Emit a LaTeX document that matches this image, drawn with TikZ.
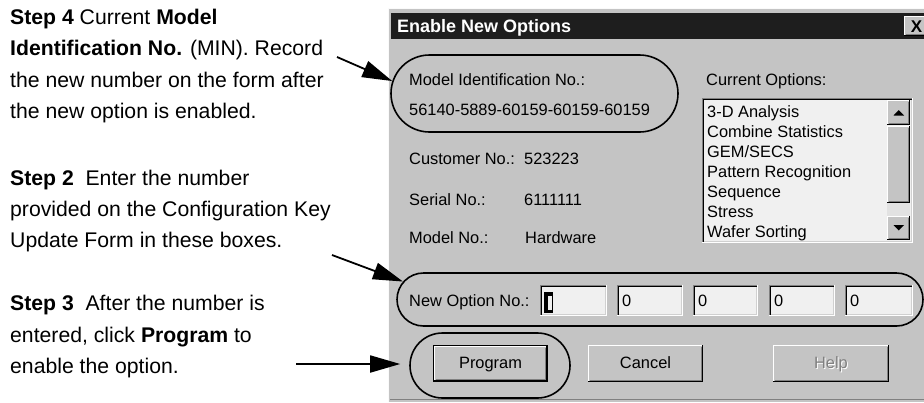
\documentclass[tikz,border=0pt]{standalone}
\usepackage{fontspec}
\setmainfont{Liberation Sans}
\usetikzlibrary{arrows.meta,shapes.misc}
\definecolor{dlg}{HTML}{C4C4C4}
\definecolor{ttl}{HTML}{1E1E1E}
\definecolor{fld}{HTML}{F0F0F0}
\definecolor{shd}{HTML}{808080}
\definecolor{hil}{HTML}{FAFAFA}
\definecolor{trk}{HTML}{E2E2E2}
\newcommand{\rbtn}[4]{%
  \fill[dlg] (#1,#2) rectangle (#3,#4);
  \draw[white, line width=1pt] (#1+0.5,#4-1) -- (#1+0.5,#2+0.5) -- (#3-1,#2+0.5);
  \draw[black, line width=1pt] (#1,#4-0.5) -- (#3-0.5,#4-0.5) -- (#3-0.5,#2);
  \draw[shd, line width=1pt] (#1+1.5,#4-1.5) -- (#3-1.5,#4-1.5) -- (#3-1.5,#2+1.5);
}
\newcommand{\snkbox}[4]{%
  \fill[fld] (#1,#2) rectangle (#3,#4);
  \draw[shd, line width=1pt] (#1+0.5,#4) -- (#1+0.5,#2+0.5) -- (#3,#2+0.5);
  \draw[black, line width=1.2pt] (#1+1.6,#4-1) -- (#1+1.6,#2+1.6) -- (#3-1,#2+1.6);
  \draw[white, line width=1pt] (#1,#4-0.5) -- (#3-0.5,#4-0.5) -- (#3-0.5,#2);
  \draw[dlg!80!white, line width=1pt] (#1+1.5,#4-1.5) -- (#3-1.5,#4-1.5) -- (#3-1.5,#2+1.5);
}
\begin{document}
\begin{tikzpicture}[x=1pt,y=-1pt,
  steptxt/.style={anchor=base west, inner sep=0pt, font=\fontsize{21.2}{24}\selectfont},
  dtxt/.style={anchor=base west, inner sep=0pt, font=\fontsize{16.4}{19}\selectfont},
  ctxt/.style={anchor=base, inner sep=0pt, font=\fontsize{16.4}{19}\selectfont},
  ring/.style={rounded rectangle, draw=black, line width=1.6pt, inner sep=0pt},
  callout/.style={draw=black, line width=1.8pt, -{Triangle[length=30pt,width=17pt]}},
]
\useasboundingbox (0,0) rectangle (924,402);
\fill[white] (0,0) rectangle (924,402);

% ---- dialog window ----
\fill[dlg] (388,8) rectangle (924,402);
\draw[hil, line width=1pt] (388.5,402) -- (388.5,8.5) -- (924,8.5);
\draw[shd, line width=1pt] (390,399.5) -- (924,399.5);
\fill[ttl] (391,13) rectangle (924,39);
\node[anchor=base west, inner sep=0pt, text=white, font=\bfseries\fontsize{18}{20}\selectfont] (title) at (397,32.5) {Enable New Options};
\rbtn{904}{16}{926}{36}
\node[anchor=base, inner sep=0pt, font=\bfseries\fontsize{17}{19}\selectfont] (close) at (916.5,32.5) {X};

% left column of dialog
\node[dtxt] (midlbl) at (409,85) {Model Identification No.:};
\node[dtxt] (midval) at (409,115) {56140-5889-60159-60159-60159};
\node[dtxt] (custl) at (409,164) {Customer No.:};
\node[dtxt] (custv) at (524,164) {523223};
\node[dtxt] (serl) at (409,205) {Serial No.:};
\node[dtxt] (serv) at (524,205) {6111111};
\node[dtxt] (modl) at (409,243) {Model No.:};
\node[dtxt] (modv) at (525,243) {Hardware};

% current options list
\node[dtxt] (curopt) at (706,85) {Current Options:};
\snkbox{702}{98}{913}{243}
\node[dtxt] (o1) at (707,117) {3-D Analysis};
\node[dtxt] (o2) at (707,137) {Combine Statistics};
\node[dtxt] (o3) at (707,157) {GEM/SECS};
\node[dtxt] (o4) at (707,177) {Pattern Recognition};
\node[dtxt] (o5) at (707,197) {Sequence};
\node[dtxt] (o6) at (707,217) {Stress};
\node[dtxt] (o7) at (707,237) {Wafer Sorting};
% scrollbar
\fill[trk] (887,126) rectangle (910,216);
\rbtn{887}{100}{910}{125}
\fill[black] (893.5,115.5) -- (904,115.5) -- (898.75,110) -- cycle;
\rbtn{887}{126}{910}{203}
\rbtn{887}{216}{910}{240}
\fill[black] (893.5,225) -- (904,225) -- (898.75,230.5) -- cycle;

% new option fields
\node[dtxt] (nol) at (409,306) {New Option No.:};
\snkbox{540}{285}{607}{316}
\snkbox{617}{285}{683}{316}
\snkbox{693}{285}{758}{316}
\snkbox{769}{285}{835}{316}
\snkbox{845}{285}{913}{316}
\fill[black] (544,292) rectangle (553,313);
\fill[fld] (547.5,295.5) rectangle (551.5,309.5);
\node[dtxt] (f2) at (622,306) {0};
\node[dtxt] (f3) at (698,306) {0};
\node[dtxt] (f4) at (774,306) {0};
\node[dtxt] (f5) at (850,306) {0};

% buttons
\fill[black] (433,345) rectangle (548,382);
\rbtn{434}{346}{547}{381}
\node[ctxt] (bprog) at (490.5,368.5) {Program};
\rbtn{588}{345}{703}{382}
\node[ctxt] (bcanc) at (645.5,368.5) {Cancel};
\rbtn{773}{345}{889}{382}
\node[ctxt, text=white] at (832,369.5) {Help};
\node[ctxt, text=shd] (bhelp) at (831,368.5) {Help};

% ---- highlight rings ----
\node[ring, minimum width=287pt, minimum height=77pt] (minring) at (534.5,93.5) {};
\node[ring, minimum width=526pt, minimum height=53pt] (noring) at (660,299.5) {};
\node[ring, minimum width=160pt, minimum height=65pt] (prring) at (490,365.5) {};

% ---- step texts ----
\node[steptxt] (l41) at (10,24) {\textbf{Step 4} Current \textbf{Model}};
\node[steptxt] (l42) at (10,55) {\textbf{Identification No.} (MIN). Record};
\node[steptxt] (l43) at (10,87) {the new number on the form after};
\node[steptxt] (l44) at (10,118.5) {the new option is enabled.};
\node[steptxt] (l21) at (10,185) {\textbf{Step 2}\ \ Enter the number};
\node[steptxt] (l22) at (10,216) {provided on the Configuration Key};
\node[steptxt] (l23) at (10,247) {Update Form in these boxes.};
\node[steptxt] (l31) at (10,310) {\textbf{Step 3}\ \ After the number is};
\node[steptxt] (l32) at (10,342) {entered, click \textbf{Program} to};
\node[steptxt] (l33) at (10,373.5) {enable the option.};

% ---- callout arrows ----
\coordinate (s4) at (337,57);
\coordinate (s2) at (332,255);
\coordinate (s3) at (296,364);
\draw[callout] (s4) -- (minring.175.8);
\draw[callout] (s2) -- (noring.176.9);
\draw[callout, shorten >=9pt] (s3) -- (s3 -| prring.west);
\end{tikzpicture}
\end{document}
